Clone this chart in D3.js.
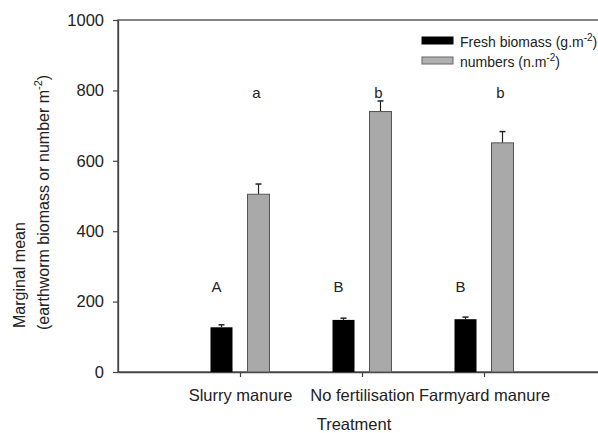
<!DOCTYPE html>
<html>
<head>
<meta charset="utf-8">
<script src="https://cdn.jsdelivr.net/npm/d3@7"></script>
<style>
  body { margin: 0; background: #fff; }
  svg { display: block; font-family: "Liberation Sans", Arial, sans-serif; }
</style>
</head>
<body>
<div id="chart"></div>
<script>
// Data
const categories  = ['Slurry manure', 'No fertilisation', 'Farmyard manure'];
const biomass     = [127, 148, 150];   // fresh biomass g.m-2
const biomassErr  = [7, 5, 6];
const numbers     = [505, 740, 651];   // numbers n.m-2
const numbersErr  = [29, 30, 32];
const upperLetters = ['A', 'B', 'B'];
const lowerLetters = ['a', 'b', 'b'];
const yTicks      = [0, 200, 400, 600, 800, 1000];

const width = 598, height = 433;
const plotL = 118, plotR = 606, plotT = 20, plotB = 372;

const svg = d3.select('#chart').append('svg')
  .attr('width', width)
  .attr('height', height);

const x = d3.scalePoint().domain(categories).range([plotL, plotR]).padding(1);
const y = d3.scaleLinear().domain([0, 1000]).range([plotB, plotT]);

const barW = 22, offset = 18.5;
const axisColor = '#444';

// frame (top + right, cut off by the window)
svg.append('rect')
  .attr('x', plotL).attr('y', plotT)
  .attr('width', plotR - plotL).attr('height', plotB - plotT)
  .attr('fill', 'none').attr('stroke', axisColor).attr('stroke-width', 1.3);

// Y axis
const yAxis = svg.append('g')
  .attr('transform', `translate(${plotL},0)`)
  .call(d3.axisLeft(y).tickValues(yTicks).tickFormat(d3.format('d'))
    .tickSize(5).tickSizeOuter(0).tickPadding(9));
yAxis.select('.domain').attr('stroke', axisColor).attr('stroke-width', 1.3);
yAxis.selectAll('line').attr('stroke', axisColor).attr('stroke-width', 1.2);
yAxis.selectAll('text')
  .attr('font-size', 16.5).attr('fill', '#222')
  .style('font-family', '"Liberation Sans", Arial, sans-serif');

// X axis
const xAxis = svg.append('g')
  .attr('transform', `translate(0,${plotB})`)
  .call(d3.axisBottom(x).tickSize(5).tickSizeOuter(0).tickPadding(12));
xAxis.select('.domain').attr('stroke', axisColor).attr('stroke-width', 1.3);
xAxis.selectAll('line').attr('stroke', axisColor).attr('stroke-width', 1.2);
xAxis.selectAll('text')
  .attr('font-size', 16.5).attr('fill', '#222')
  .style('font-family', '"Liberation Sans", Arial, sans-serif');

// error bars
function errBars(vals, errs, dx) {
  const g = svg.append('g');
  vals.forEach((v, i) => {
    const cx = x(categories[i]) + dx;
    g.append('line')
      .attr('x1', cx).attr('x2', cx)
      .attr('y1', y(v)).attr('y2', y(v + errs[i]))
      .attr('stroke', '#222').attr('stroke-width', 1.2);
    g.append('line')
      .attr('x1', cx - 3).attr('x2', cx + 3)
      .attr('y1', y(v + errs[i])).attr('y2', y(v + errs[i]))
      .attr('stroke', '#222').attr('stroke-width', 1.5);
  });
}
errBars(biomass, biomassErr, -offset);
errBars(numbers, numbersErr, offset);

// bars
svg.append('g').selectAll('rect')
  .data(biomass)
  .join('rect')
  .attr('x', (d, i) => x(categories[i]) - offset - barW / 2)
  .attr('y', d => y(d))
  .attr('width', barW)
  .attr('height', d => plotB - y(d))
  .attr('fill', '#000');

svg.append('g').selectAll('rect')
  .data(numbers)
  .join('rect')
  .attr('x', (d, i) => x(categories[i]) + offset - barW / 2)
  .attr('y', d => y(d))
  .attr('width', barW)
  .attr('height', d => plotB - y(d))
  .attr('fill', '#a9a9a9')
  .attr('stroke', '#555')
  .attr('stroke-width', 1);

// significance letters
svg.append('g').selectAll('text')
  .data(upperLetters)
  .join('text')
  .attr('x', (d, i) => x(categories[i]) - offset - 5)
  .attr('y', y(227))
  .attr('text-anchor', 'middle')
  .attr('font-size', 15).attr('fill', '#222')
  .text(d => d);

svg.append('g').selectAll('text')
  .data(lowerLetters)
  .join('text')
  .attr('x', (d, i) => x(categories[i]) + offset - 2)
  .attr('y', y(779))
  .attr('text-anchor', 'middle')
  .attr('font-size', 15).attr('fill', '#222')
  .text(d => d);

// axis titles
svg.append('text')
  .attr('x', (plotL + plotR) / 2 - 8)
  .attr('y', 430)
  .attr('text-anchor', 'middle')
  .attr('font-size', 16.5).attr('fill', '#222')
  .text('Treatment');

const yl = svg.append('g')
  .attr('transform', 'rotate(-90)')
  .attr('font-size', 16).attr('fill', '#222');
yl.append('text')
  .attr('x', -328).attr('y', 25)
  .text('Marginal mean');
const yl2 = yl.append('text')
  .attr('x', -330).attr('y', 49);
yl2.append('tspan').text('(earthworm biomass or number m');
yl2.append('tspan').attr('dy', -7).attr('font-size', 11).text('-2');
yl2.append('tspan').attr('dy', 7).text(')');

// legend
const legend = svg.append('g').attr('font-size', 14).attr('fill', '#222');
const legendItems = [
  { fill: '#000', stroke: '#000', label: 'Fresh biomass (g.m', tail: ')' },
  { fill: '#b0b0b0', stroke: '#666', label: 'numbers (n.m', tail: ')' }
];
legendItems.forEach((it, i) => {
  const ly = 37 + i * 20;
  legend.append('rect')
    .attr('x', 422).attr('y', ly)
    .attr('width', 31).attr('height', 7)
    .attr('fill', it.fill).attr('stroke', it.stroke);
  const t = legend.append('text').attr('x', 460).attr('y', ly + 10);
  t.append('tspan').text(it.label);
  t.append('tspan').attr('dy', -6).attr('font-size', 10).text('-2');
  t.append('tspan').attr('dy', 6).text(it.tail);
});
</script>
</body>
</html>
